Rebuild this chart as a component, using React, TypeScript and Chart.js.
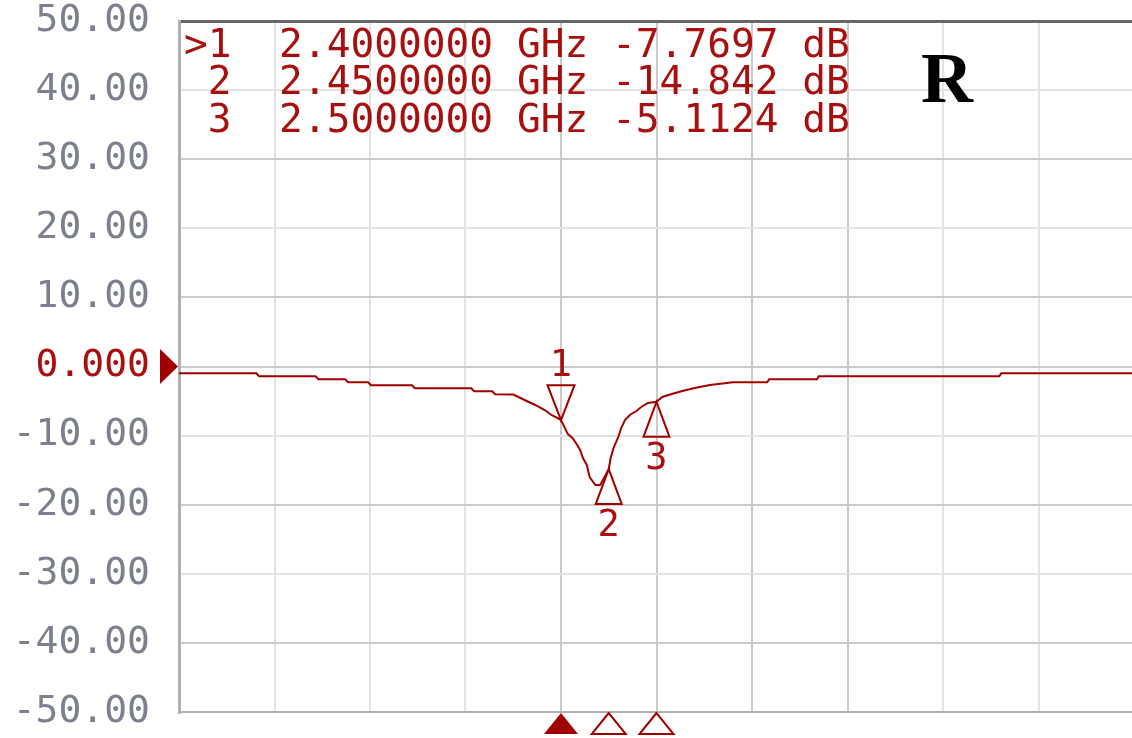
import React, { useEffect, useRef } from "react";
import { Chart, registerables } from "chart.js";

Chart.register(...registerables);

// ---- data ----
const freqGHz = [
  2.0, 2.081, 2.084, 2.143, 2.146, 2.174, 2.177, 2.198, 2.201, 2.244, 2.247, 2.306,
  2.309, 2.328, 2.331, 2.35, 2.356, 2.364, 2.373, 2.383, 2.39, 2.396, 2.4, 2.403,
  2.407, 2.412, 2.417, 2.42, 2.423, 2.427, 2.43, 2.436, 2.441, 2.445, 2.45, 2.452,
  2.455, 2.46, 2.463, 2.467, 2.472, 2.479, 2.484, 2.491, 2.5, 2.506, 2.516, 2.527,
  2.54, 2.556, 2.58, 2.616, 2.618, 2.668, 2.67, 2.859, 2.861, 3.0,
];
const s11dB = [
  -0.98, -0.98, -1.42, -1.42, -1.85, -1.85, -2.28, -2.28, -2.72, -2.72, -3.15, -3.15,
  -3.59, -3.59, -4.02, -4.05, -4.45, -4.99, -5.57, -6.3, -7.02, -7.45, -7.77, -8.55,
  -9.75, -10.35, -11.36, -12.08, -13.24, -14.25, -15.99, -17.15, -17.15, -16.14, -14.84, -13.24,
  -11.79, -10.2, -8.9, -7.74, -7.02, -6.44, -5.86, -5.28, -5.11, -4.41, -3.98, -3.55,
  -3.11, -2.68, -2.28, -2.28, -1.85, -1.85, -1.42, -1.42, -0.98, -0.98,
];
const markerIds = ["1", "2", "3"];
const markerFreqGHz = [2.4, 2.45, 2.5];
const markerDB = [-7.7697, -14.842, -5.1124];
const markerFreqText = ["2.4000000", "2.4500000", "2.5000000"];
const markerValText = ["-7.7697", "-14.842", "-5.1124"];
const activeMarker = 0;
const yTicks = [50, 40, 30, 20, 10, 0, -10, -20, -30, -40, -50];
const referenceLevel = 0;
const traceName = "R";

// ---- styles ----
const RED = "#a00000";
const TEXT_RED = "#a81010";
const LIGHT = "#e3e3e3";
const DARK = "#cacaca";
const yGridColors: Record<string, string> = {
  "50": "#666666", "40": LIGHT, "30": DARK, "20": LIGHT, "10": DARK, "0": DARK,
  "-10": LIGHT, "-20": DARK, "-30": LIGHT, "-40": DARK, "-50": "#b0b0b0",
};
const xGridColors = ["#b0b0b0", LIGHT, LIGHT, LIGHT, DARK, DARK, DARK, DARK, LIGHT, LIGHT, LIGHT];
const MONO = '"DejaVu Sans Mono", monospace';

const overlay = {
  id: "vnaOverlay",
  afterDraw(chart: any) {
    const { ctx, chartArea, scales } = chart;
    const xs = scales.x;
    const ys = scales.y;
    ctx.save();

    // marker readout
    ctx.font = `39.5px ${MONO}`;
    ctx.fillStyle = TEXT_RED;
    ctx.textAlign = "left";
    ctx.textBaseline = "alphabetic";
    markerIds.forEach((id, i) => {
      const line =
        (i === activeMarker ? ">" : " ") + id + "  " + markerFreqText[i] + " GHz " + markerValText[i] + " dB";
      ctx.fillText(line, chartArea.left + 5, chartArea.top + 35.5 + i * 37.5);
    });

    // trace name
    ctx.font = 'bold 72px "Liberation Serif", serif';
    ctx.fillStyle = "#000";
    ctx.fillText(traceName, chartArea.left + 742, chartArea.top + 81);

    // markers on trace
    ctx.strokeStyle = RED;
    ctx.fillStyle = TEXT_RED;
    ctx.lineWidth = 2;
    ctx.lineJoin = "miter";
    ctx.font = `37px ${MONO}`;
    ctx.textAlign = "center";
    markerFreqGHz.forEach((f, i) => {
      const px = xs.getPixelForValue(f);
      const py = ys.getPixelForValue(markerDB[i]);
      ctx.beginPath();
      if (i === activeMarker) {
        ctx.moveTo(px, py);
        ctx.lineTo(px - 13.5, py - 35);
        ctx.lineTo(px + 13.5, py - 35);
        ctx.closePath();
        ctx.stroke();
        ctx.fillText(markerIds[i], px, py - 44);
      } else {
        ctx.moveTo(px, py);
        ctx.lineTo(px - 13, py + 35);
        ctx.lineTo(px + 13, py + 35);
        ctx.closePath();
        ctx.stroke();
        ctx.fillText(markerIds[i], px, py + 67);
      }
    });

    // markers below the x axis
    ctx.fillStyle = RED;
    markerFreqGHz.forEach((f, i) => {
      const px = xs.getPixelForValue(f);
      const top = chartArea.bottom + 1;
      const base = chartArea.bottom + 22;
      ctx.beginPath();
      ctx.moveTo(px, top);
      ctx.lineTo(px - 17, base);
      ctx.lineTo(px + 17, base);
      ctx.closePath();
      if (i === activeMarker) ctx.fill();
      else ctx.stroke();
    });

    // reference level marker
    const y0 = ys.getPixelForValue(referenceLevel);
    ctx.beginPath();
    ctx.moveTo(chartArea.left - 1, y0);
    ctx.lineTo(chartArea.left - 19, y0 - 17.5);
    ctx.lineTo(chartArea.left - 19, y0 + 17.5);
    ctx.closePath();
    ctx.fill();

    ctx.restore();
  },
};

export default function App() {
  const ref = useRef<HTMLCanvasElement | null>(null);

  useEffect(() => {
    if (!ref.current) return;
    const chart = new Chart(ref.current, {
      type: "line",
      data: {
        datasets: [
          {
            label: "S11",
            data: freqGHz.map((f, i) => ({ x: f, y: s11dB[i] })),
            borderColor: RED,
            borderWidth: 2,
            pointRadius: 0,
            tension: 0,
            fill: false,
          },
        ],
      },
      options: {
        animation: false,
        responsive: false,
        maintainAspectRatio: false,
        layout: { padding: { left: 0, top: 21, right: 6, bottom: 26 } },
        plugins: { legend: { display: false }, tooltip: { enabled: false } },
        scales: {
          x: {
            type: "linear",
            min: 2.0,
            max: 3.0,
            ticks: { display: false, stepSize: 0.1 },
            grid: {
              drawTicks: false,
              lineWidth: 2,
              color: (c: any) => xGridColors[c.index] ?? LIGHT,
            },
            border: { color: "#b0b0b0", width: 2 },
            afterFit: (s: any) => {
              s.height = 0;
              s.paddingLeft = 0;
              s.paddingRight = 0;
            },
          },
          y: {
            type: "linear",
            min: -50,
            max: 50,
            afterBuildTicks: (s: any) => {
              s.ticks = yTicks.map((v) => ({ value: v }));
            },
            ticks: {
              padding: 29,
              font: { family: MONO, size: 38, lineHeight: 1 },
              color: (c: any) => (c.tick && c.tick.value === referenceLevel ? TEXT_RED : "#7c808e"),
              callback: (v: any) => (v === 0 ? "0.000" : Number(v).toFixed(2)),
            },
            grid: {
              drawTicks: false,
              lineWidth: (c: any) => (c.tick && c.tick.value === 50 ? 3 : 2),
              color: (c: any) => yGridColors[String(c.tick ? c.tick.value : "")] ?? LIGHT,
            },
            border: { color: "#b0b0b0", width: 3 },
            afterFit: (s: any) => {
              s.width = 179;
              s.paddingTop = 0;
              s.paddingBottom = 0;
            },
          },
        },
      },
      plugins: [overlay],
    });
    return () => chart.destroy();
  }, []);

  return (
    <div
      style={{
        position: "fixed",
        left: 0,
        top: 0,
        width: 1132,
        height: 738,
        overflow: "hidden",
        background: "#fff",
      }}
    >
      <canvas ref={ref} width={1140} height={738} style={{ width: 1140, height: 738, display: "block" }} />
    </div>
  );
}
